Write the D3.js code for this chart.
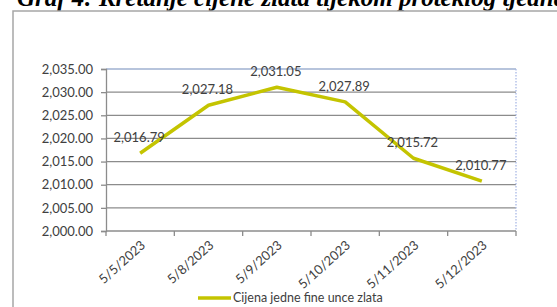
<!DOCTYPE html>
<html><head><meta charset="utf-8">
<script src="https://cdn.jsdelivr.net/npm/d3@7"></script>
<style>body{margin:0;background:#fff}svg{display:block}</style>
</head><body>
<script>
const categories = ["5/5/2023","5/8/2023","5/9/2023","5/10/2023","5/11/2023","5/12/2023"];
const values = [2016.79, 2027.18, 2031.05, 2027.89, 2015.72, 2010.77];
const yTicks = [2000,2005,2010,2015,2020,2025,2030,2035];
const seriesName = "Cijena jedne fine unce zlata";
const title = "Graf 4: Kretanje cijene zlata tijekom proteklog tjedna";

const W = 557, H = 307;
const svg = d3.select("body").append("svg").attr("width", W).attr("height", H);
const font = "Lato, 'Open Sans', sans-serif";
const lineColor = "#c4c400";

// title (cropped at top, as in the reference)
svg.append("text").attr("x", 17).attr("y", 6)
  .attr("font-family", "'Liberation Serif', 'Times New Roman', serif")
  .attr("font-weight", "bold").attr("font-style", "italic")
  .attr("font-size", 25).attr("fill", "#000").text(title);

// chart frame
svg.append("rect").attr("x", 13).attr("y", 11).attr("width", 600).attr("height", 400)
  .attr("fill", "none").attr("stroke", "#a6a6a6").attr("stroke-width", 1.5);

const L = 106, R = 516, T = 69, B = 231;
const x = d3.scaleBand().domain(categories).range([L, R]);
const y = d3.scaleLinear().domain([2000, 2035]).range([B, T]);

// gridlines
svg.append("g").selectAll("line").data(yTicks.filter(d => d !== 2000 && d !== 2035)).join("line")
  .attr("x1", L).attr("x2", R).attr("y1", d => y(d)).attr("y2", d => y(d))
  .attr("stroke", "#8c8c8c").attr("stroke-width", 1.3);
// top border of plot
svg.append("line").attr("x1", L).attr("x2", R).attr("y1", y(2035)).attr("y2", y(2035))
  .attr("stroke", "#9fb0d0").attr("stroke-width", 1.3);
// right border of plot
svg.append("line").attr("x1", R).attr("x2", R).attr("y1", T).attr("y2", B)
  .attr("stroke", "#a9b9e6").attr("stroke-width", 1.3).attr("stroke-dasharray", "1.5,1.5");

// y axis
const yAxis = d3.axisLeft(y).tickValues(yTicks).tickSize(5).tickPadding(8)
  .tickFormat(d3.format(",.2f"));
const gy = svg.append("g").attr("transform", `translate(${L},0)`).call(yAxis);
gy.select(".domain").attr("stroke", "#8c8c8c").attr("stroke-width", 1.3);
gy.selectAll(".tick line").attr("stroke", "#8c8c8c").attr("stroke-width", 1.3);
gy.selectAll("text").attr("font-family", font).attr("font-size", 13).attr("fill", "#404040");

// x axis
const gx = svg.append("g").attr("transform", `translate(0,${B})`);
gx.append("line").attr("x1", L).attr("x2", R).attr("y1", 0).attr("y2", 0)
  .attr("stroke", "#8c8c8c").attr("stroke-width", 1.5);
const bounds = categories.map(c => x(c)).concat([R]);
gx.selectAll("line.tk").data(bounds).join("line").attr("class", "tk")
  .attr("x1", d => d).attr("x2", d => d).attr("y1", 0).attr("y2", 5)
  .attr("stroke", "#8c8c8c").attr("stroke-width", 1.3);
gx.selectAll("text").data(categories).join("text")
  .attr("transform", d => `translate(${x(d) + x.bandwidth()/2 + 3},${12}) rotate(-42)`)
  .attr("text-anchor", "end").attr("dy", "0.35em")
  .attr("font-family", font).attr("font-size", 13).attr("fill", "#404040").text(d => d);

// line
const cx = (c) => x(c) + x.bandwidth()/2;
const line = d3.line().x((d, i) => cx(categories[i])).y(d => y(d));
svg.append("path").datum(values).attr("d", line).attr("fill", "none")
  .attr("stroke", lineColor).attr("stroke-width", 3.5).attr("stroke-linejoin", "round");

// data labels
svg.append("g").selectAll("text").data(values).join("text")
  .attr("x", (d, i) => cx(categories[i]) - 1).attr("y", d => y(d) - 11)
  .attr("text-anchor", "middle").attr("font-family", font).attr("font-size", 13)
  .attr("fill", "#404040").text(d => d3.format(",.2f")(d));

// legend
svg.append("line").attr("x1", 198).attr("x2", 231).attr("y1", 298).attr("y2", 298)
  .attr("stroke", lineColor).attr("stroke-width", 3.5);
svg.append("text").attr("x", 233).attr("y", 302).attr("font-family", font)
  .attr("font-size", 12.5).attr("fill", "#404040").text(seriesName);
</script>
</body></html>
